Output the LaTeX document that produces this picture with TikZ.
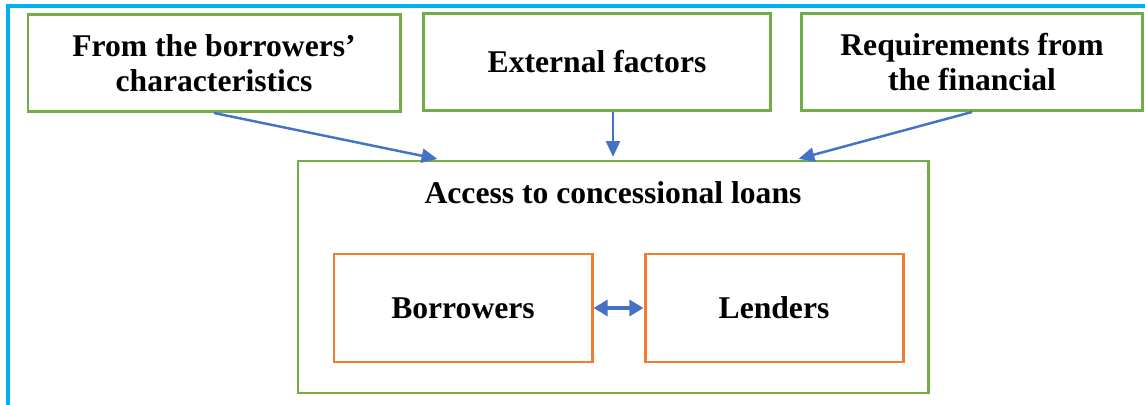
\documentclass[tikz,border=0pt]{standalone}
\usepackage{fontspec}
\setmainfont{Liberation Serif}
\usetikzlibrary{arrows.meta,positioning}
\definecolor{framecyan}{RGB}{0,176,240}
\definecolor{boxgreen}{RGB}{112,173,71}
\definecolor{boxorange}{RGB}{237,125,49}
\definecolor{arrowblue}{RGB}{68,114,196}
\begin{document}
\begin{tikzpicture}[x=0.02cm, y=-0.02cm,
                every node/.style = {shape=rectangle, align=center,
                        font=\fontsize{18}{20}\selectfont\bfseries, inner sep=0pt
                    },
                factor/.style = {draw=boxgreen, line width=1.7pt},
                actor/.style = {draw=boxorange, line width=1.7pt,
                        minimum width=258*0.02cm, minimum height=108*0.02cm},
                link/.style = {draw=arrowblue, line width=1.4pt,
                        -{Triangle[length=9pt, width=8pt]}}]
            \useasboundingbox (0,0) rectangle (1145,405);
            \draw[framecyan, line width=2pt] (8,420) -- (8,6) -- (1160,6);
            \node[factor, minimum width=372*0.02cm, minimum height=97*0.02cm]
                (borrowerside) at (214,63) {From the borrowers'\\characteristics};
            \node[factor, minimum width=347*0.02cm, minimum height=97*0.02cm]
                (external) at (597,62) {External factors};
            \node[factor, minimum width=341*0.02cm, minimum height=97*0.02cm]
                (lenderside) at (972,62) {Requirements from\\the financial};
            \node[factor, minimum width=630*0.02cm, minimum height=232*0.02cm]
                (access) at (613,277) {};
            \node (accesstitle) at (613,193) {Access to concessional loans};
            \node[actor] (borrowers) at (463,308) {Borrowers};
            \node[actor] (lenders) at (774,308) {Lenders};
            \draw[link, shorten >=1.5pt] (borrowerside.south) -- ([xshift=-173*0.02cm]access.north);
            \draw[link, shorten >=1.5pt] (external.south -| access.north) -- (access.north);
            \draw[link, shorten >=1.5pt] (lenderside.south) -- ([xshift=183*0.02cm]access.north);
            \draw[link, line width=2pt, {Triangle[length=8pt, width=9pt]}-{Triangle[length=8pt, width=9pt]}]
                (borrowers) -- (lenders);
        \end{tikzpicture}
\end{document}
